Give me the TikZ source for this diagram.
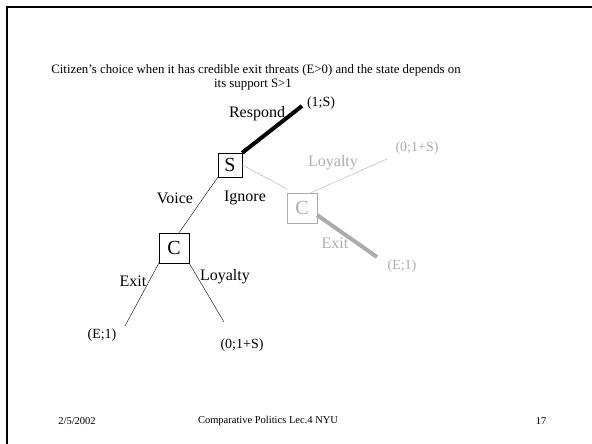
\documentclass[tikz,border=0pt]{standalone}
\usepackage{fontspec}
\setmainfont{Liberation Serif}
\usetikzlibrary{positioning, calc}

\definecolor{faded}{RGB}{172,172,172}

\begin{document}
\begin{tikzpicture}[x=1pt, y=-1pt, thin]

  % --- CONFIGURAÇÕES GERAIS ---
  \useasboundingbox (0,0) rectangle (592,444);
  \tikzset{
    movebox/.style={draw, minimum size=30pt, inner sep=0pt, font=\fontsize{20}{22}\selectfont},
    movelbl/.style={inner sep=0pt, font=\fontsize{16}{18}\selectfont},
    payoff/.style={inner sep=0pt, font=\fontsize{14}{16}\selectfont},
    faint/.style={draw=faded, text=faded}
  }
  \def\yTitle{70}
  \def\yFoot{421}

  % --- MOLDURA DO SLIDE ---
  \draw[line width=2pt] (6,7) -- (592,7);
  \draw[line width=2pt] (7,6) -- (7,444);

  % --- TÍTULO ---
  \node (t1) at (256,\yTitle) [font=\fontsize{12.8}{14}\selectfont, inner sep=0pt]
    {Citizen’s choice when it has credible exit threats (E>0) and the state depends on};
  \node (t2) at (253,\yTitle+15) [font=\fontsize{12.8}{14}\selectfont, inner sep=0pt]
    {its support S>1};

  % --- NÓS DE DECISÃO ---
  \node[movebox, minimum size=24pt] (S) at (230,165) {S};
  \node[movebox] (Cv) at (174,248) {C};
  \node[movebox, faint] (Ci) at (302,208) {C};

  % Pontas livres dos ramos
  \coordinate (endR)  at (302,106);
  \coordinate (endIL) at (387,159);
  \coordinate (endIE) at (377,257);
  \coordinate (endVE) at (125,326);
  \coordinate (endVL) at (224,322);

  % --- RAMOS ---
  \draw[line width=4pt] (S.north east) -- (endR);
  \draw (S.south west) -- ([xshift=5pt]Cv.north);
  \draw[faded] (S.east) -- ([yshift=4pt]Ci.north west);
  \draw[faded] (Ci.60) -- (endIL);
  \draw[faded, line width=4pt] (Ci.-25) -- (endIE);
  \draw (Cv.south west) -- (endVE);
  \draw (Cv.south east) -- (endVL);

  % --- RÓTULOS DAS AÇÕES ---
  \node[movelbl] (lR)  at (257,114) {Respond};
  \node[movelbl] (lV)  at (175,198) {Voice};
  \node[movelbl] (lI)  at (245,198) {Ignore};
  \node[movelbl, text=faded] (lIL) at (333,163) {Loyalty};
  \node[movelbl, text=faded] (lIE) at (335,243) {Exit};
  \node[movelbl] (lVE) at (133,281) {Exit};
  \node[movelbl] (lVL) at (225,277) {Loyalty};

  % --- PAYOFFS ---
  \node[payoff] (pR)  at (321,103) {(1;S)};
  \node[payoff, text=faded] (pIL) at (417,148) {(0;1+S)};
  \node[payoff, text=faded] (pIE) at (402,266) {(E;1)};
  \node[payoff] (pVE) at (102,335) {(E;1)};
  \node[payoff] (pVL) at (242,345) {(0;1+S)};

  % --- RODAPÉ ---
  \foreach \x/\txt [count=\i] in {77/2\slash 5\slash 2002, 268/Comparative Politics Lec.4 NYU, 541/17} {
    \node (f\i) at (\x,\yFoot) [font=\fontsize{10.5}{12}\selectfont, inner sep=0pt] {\txt};
  }

\end{tikzpicture}
\end{document}
